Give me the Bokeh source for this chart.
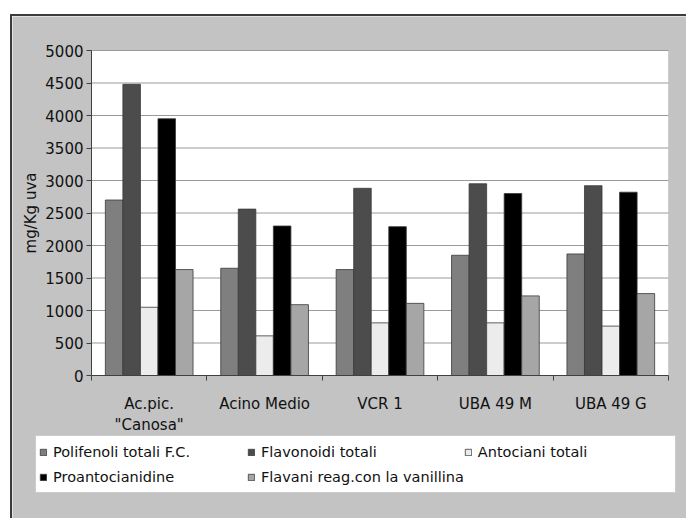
from bokeh.plotting import figure
from bokeh.models import (Range1d, FixedTicker, Legend, LegendItem, ColumnDataSource,
                          BoxAnnotation)
from bokeh.embed import file_html
from bokeh.resources import INLINE

# Grape samples and phenolic content (mg/Kg uva)
varieties = ['Ac.pic.\n"Canosa"', "Acino Medio", "VCR 1", "UBA 49 M", "UBA 49 G"]
polifenoli = [2700, 1650, 1630, 1850, 1870]
flavonoidi = [4480, 2560, 2880, 2950, 2920]
antociani = [1050, 610, 810, 810, 760]
proantocianidine = [3950, 2300, 2290, 2800, 2820]
flavani = [1630, 1090, 1110, 1225, 1260]

series_labels = ["Polifenoli totali F.C.", "Flavonoidi totali", "Antociani totali",
                 "Proantocianidine", "Flavani reag.con la vanillina"]
series_values = [polifenoli, flavonoidi, antociani, proantocianidine, flavani]
series_colors = ["#7f7f7f", "#4c4c4c", "#ececec", "#000000", "#a6a6a6"]
y_ticks = [0, 500, 1000, 1500, 2000, 2500, 3000, 3500, 4000, 4500, 5000]

FONT = "DejaVu Sans"
BG = "#c3c3c3"
AXIS = "#404040"
TEXT = "#111111"
BAR_EDGE = "#3a3a3a"
GRID = "#9a9a9a"

n = len(varieties)
y_max = y_ticks[-1]

# canvas layout (pixels): plot area inset inside a grey panel that also holds the legend
W, H = 676, 504
PL, PT, PR, PB = 79, 34, 20, 145
px_x = (W - PL - PR) / n
px_y = (H - PT - PB) / y_max

p = figure(width=W, height=H, output_backend="svg", toolbar_location=None,
           x_range=Range1d(-PL / px_x, n + PR / px_x),
           y_range=Range1d(-PB / px_y, y_max + PT / px_y),
           min_border=0)
p.margin = (14, 0, 0, 10)
p.styles = {"border-top": "2px solid #3c3c3c", "border-left": "2px solid #3c3c3c"}
p.border_fill_color = BG
p.background_fill_color = BG
p.outline_line_color = None
p.grid.grid_line_color = None

# white plotting area
p.add_layout(BoxAnnotation(left=0, right=n, bottom=0, top=y_max, level="image",
                           fill_color="white", fill_alpha=1.0,
                           line_color="#a0a0a0", line_width=1))

# horizontal gridlines across the plotting area only
p.segment(x0=0, x1=n, y0=y_ticks, y1=y_ticks, line_color=GRID, line_width=1)

bar_w = 0.152
renderers = []
for k, (vals, col) in enumerate(zip(series_values, series_colors)):
    xs = [i + 0.5 + (k - 2) * bar_w for i in range(n)]
    src = ColumnDataSource(dict(x=xs, top=vals))
    r = p.vbar(x="x", top="top", width=bar_w, bottom=0, source=src,
               fill_color=col, line_color=BAR_EDGE, line_width=0.8)
    renderers.append(r)

# y axis pinned at x = 0
p.yaxis.fixed_location = 0
p.yaxis.bounds = (0, y_max)
p.yaxis.ticker = FixedTicker(ticks=y_ticks)
p.yaxis.axis_label = "mg/Kg uva"
p.yaxis.axis_label_text_font = FONT
p.yaxis.axis_label_text_font_size = "15px"
p.yaxis.axis_label_text_font_style = "normal"
p.yaxis.axis_label_text_color = TEXT
p.yaxis.axis_label_standoff = 2
p.yaxis.major_label_text_font = FONT
p.yaxis.major_label_text_font_size = "15px"
p.yaxis.major_label_text_color = TEXT
p.yaxis.axis_line_color = AXIS
p.yaxis.major_tick_line_color = AXIS
p.yaxis.major_tick_out = 5
p.yaxis.major_tick_in = 0
p.yaxis.minor_tick_line_color = None
p.yaxis.major_label_standoff = 3

# x axis pinned at y = 0: labels at group centres, tick marks at group boundaries
centers = [i + 0.5 for i in range(n)]
bounds = list(range(n + 1))
p.xaxis.fixed_location = 0
p.xaxis.bounds = (0, n)
p.xaxis.ticker = FixedTicker(ticks=centers, minor_ticks=bounds)
p.xaxis.major_label_overrides = {c: name for c, name in zip(centers, varieties)}
p.xaxis.major_label_text_font = FONT
p.xaxis.major_label_text_font_size = "15px"
p.xaxis.major_label_text_color = TEXT
p.xaxis.major_label_standoff = 13
p.xaxis.axis_line_color = AXIS
p.xaxis.major_tick_line_color = None
p.xaxis.minor_tick_line_color = AXIS
p.xaxis.minor_tick_out = 5
p.xaxis.minor_tick_in = 0

legend = Legend(
    items=[LegendItem(label=lab, renderers=[r]) for lab, r in zip(series_labels, renderers)],
    orientation="horizontal", ncols=3, location=(23, 27),
    label_text_font=FONT, label_text_font_size="14.5px", label_text_color=TEXT,
    glyph_width=8, glyph_height=8, label_standoff=6, label_height=25, label_width=194,
    spacing=0, padding=3, margin=0,
    border_line_color=GRID, background_fill_color="white", background_fill_alpha=1.0,
)
p.add_layout(legend)

open("out.html", "w").write(file_html(p, INLINE))
